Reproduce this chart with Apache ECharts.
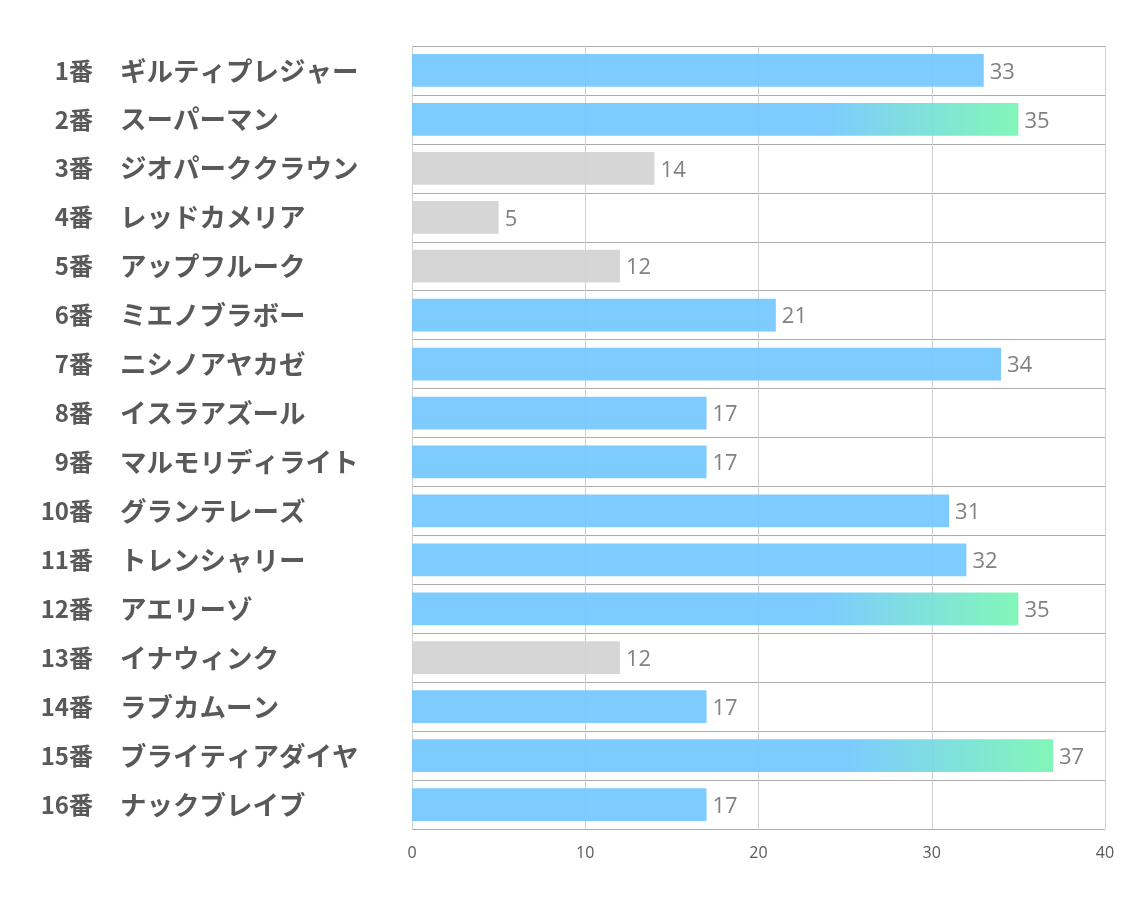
<!DOCTYPE html>
<html>
<head>
<meta charset="utf-8">
<script src="https://cdn.jsdelivr.net/npm/echarts@6/dist/echarts.min.js"></script>
<style>
  html, body { margin: 0; padding: 0; background: #fff; }
  #main { width: 1134px; height: 907px; }
</style>
</head>
<body>
<div id="main"></div>
<script>
// 馬番と馬名
const numbers = ['1番', '2番', '3番', '4番', '5番', '6番', '7番', '8番',
  '9番', '10番', '11番', '12番', '13番', '14番', '15番', '16番']
const horses = ['ギルティプレジャー', 'スーパーマン', 'ジオパーククラウン', 'レッドカメリア',
  'アップフルーク', 'ミエノブラボー', 'ニシノアヤカゼ', 'イスラアズール',
  'マルモリディライト', 'グランテレーズ', 'トレンシャリー', 'アエリーゾ',
  'イナウィンク', 'ラブカムーン', 'ブライティアダイヤ', 'ナックブレイブ']
const scores = [33, 35, 14, 5, 12, 21, 34, 17, 17, 31, 32, 35, 12, 17, 37, 17]
const xTicks = [0, 10, 20, 30, 40]

// 上位3頭はグラデーション、15未満はグレー
const top3 = scores.slice().sort((a, b) => b - a)[2]
const blue = '#72c7ff'
const green = '#78f6b3'

const barData = scores.map(v => {
  let color = blue
  if (v >= top3) {
    color = new echarts.graphic.LinearGradient(0, 0, 1, 0, [
      { offset: 0, color: blue },
      { offset: 0.68, color: blue },
      { offset: 1, color: green }
    ])
  } else if (v < 15) {
    color = '#d3d3d3'
  }
  return { value: v, itemStyle: { color: color } }
})

const labelFont = {
  fontWeight: 'bold',
  color: '#595959',
  fontFamily: 'Noto Sans CJK JP'
}

const option = {
  animation: false,
  grid: {
    left: 412,
    right: 29,
    top: 46,
    bottom: 78,
    containLabel: false
  },
  xAxis: {
    type: 'value',
    min: xTicks[0],
    max: xTicks[xTicks.length - 1],
    interval: 10,
    axisLine: { show: false },
    axisTick: { show: false },
    axisLabel: {
      margin: 16,
      color: '#595959',
      fontSize: 16,
      fontFamily: 'Open Sans'
    },
    splitLine: { lineStyle: { color: '#d0d0d0', width: 1 } }
  },
  yAxis: [
    {
      // 馬番（右揃え）
      type: 'category',
      inverse: true,
      data: numbers,
      axisLine: { show: true, lineStyle: { color: '#d0d0d0' } },
      axisTick: { show: false },
      splitLine: { show: true, lineStyle: { color: '#ababab', width: 1 } },
      axisLabel: Object.assign({ align: 'right', margin: 319, fontSize: 24 }, labelFont)
    },
    {
      // 馬名（左揃え）
      type: 'category',
      position: 'left',
      inverse: true,
      data: horses,
      axisLine: { show: false },
      axisTick: { show: false },
      splitLine: { show: false },
      axisLabel: Object.assign({ align: 'left', margin: 292, fontSize: 26.5 }, labelFont)
    }
  ],
  series: [
    {
      type: 'bar',
      yAxisIndex: 0,
      data: barData,
      barCategoryGap: '33%',
      itemStyle: { opacity: 0.92 },
      label: {
        show: true,
        position: 'right',
        distance: 6,
        offset: [0, 2],
        color: '#767676',
        fontSize: 22,
        fontFamily: 'Open Sans'
      }
    }
  ]
}

const myChart = echarts.init(document.getElementById('main'))
myChart.setOption(option)
</script>
</body>
</html>
